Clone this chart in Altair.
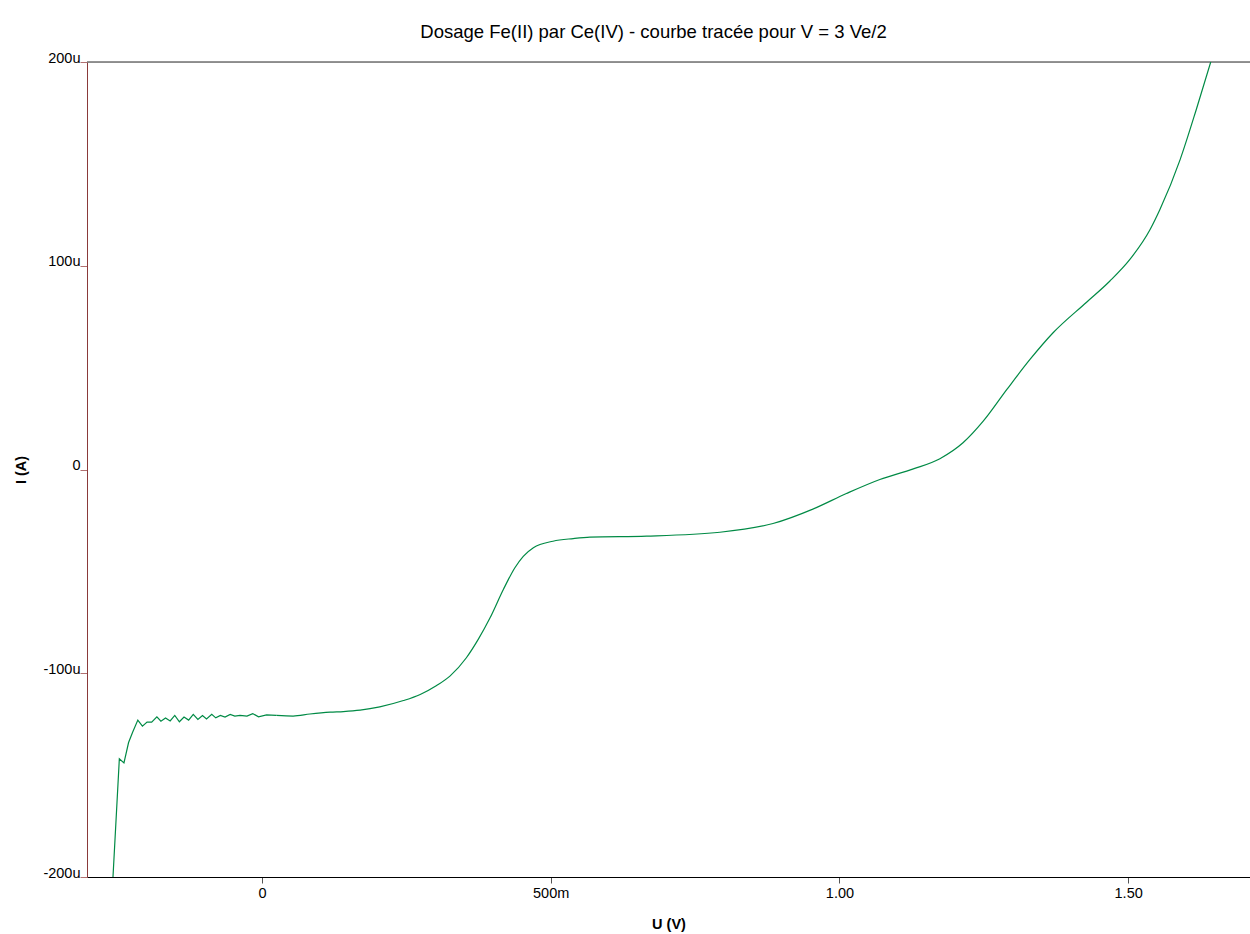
import altair as alt
import pandas as pd

# Potential U (V) and current I (µA)
U = [-0.258, -0.247, -0.239, -0.231, -0.224, -0.215, -0.207, -0.199, -0.191, -0.182,
     -0.175, -0.167, -0.159, -0.151, -0.143, -0.135, -0.127, -0.119, -0.111, -0.103,
     -0.096, -0.087, -0.080, -0.072, -0.064, -0.055, -0.047, -0.038, -0.026, -0.016,
     -0.006, 0.008, 0.025, 0.054, 0.083, 0.118, 0.141, 0.170, 0.204, 0.245,
     0.274, 0.3025, 0.3255, 0.354, 0.3745, 0.395, 0.418, 0.438, 0.4525, 0.470,
     0.504, 0.539, 0.568, 0.666, 0.793, 0.885, 0.955, 1.012, 1.070, 1.128,
     1.174, 1.214, 1.249, 1.290, 1.330, 1.370, 1.428, 1.468, 1.503, 1.538,
     1.555, 1.590, 1.618, 1.643]
I = [-200, -142, -144, -134, -129, -123, -126, -124, -124, -121.4,
     -123.5, -122, -123.4, -120.7, -123.8, -121.5, -123, -120.2, -122.7, -120.7,
     -122.4, -120.2, -121.9, -120.7, -121.5, -120.2, -121, -120.7, -121, -119.8,
     -121.4, -120.4, -120.7, -121, -120, -119.1, -118.8, -118.1, -116.5, -113.4,
     -110.4, -106, -101.4, -92.4, -83.4, -72.8, -58.9, -48.2, -42.6, -38.4,
     -35.2, -33.9, -33.2, -32.7, -30.8, -26.5, -19.3, -11.8, -4.9, 0.3,
     5.3, 13.1, 23.7, 39.3, 54, 67.1, 82.1, 92.4, 103.1, 117.8,
     127.6, 152.1, 176.7, 200]

x_ticks = [0, 0.5, 1.0, 1.5]
y_ticks = [-200, -100, 0, 100, 200]
x_domain = [-0.303, 1.711]
y_domain = [-200, 200]
noisy_until = 0.025  # end of the noisy (zig-zag) part of the scan

df = pd.DataFrame({"U": U, "I": I})

FONT = "Liberation Sans"

x_enc = alt.X(
    "U:Q",
    scale=alt.Scale(domain=x_domain, nice=False, zero=False),
    axis=alt.Axis(
        values=x_ticks,
        labelExpr="datum.value == 0 ? '0' : (datum.value == 0.5 ? '500m' : format(datum.value, '.2f'))",
        title="U (V)",
        titleFont=FONT, titleFontSize=14.5, titleFontWeight="bold", titleColor="#000",
        titleBaseline="alphabetic", titleY=51,
        labelFont=FONT, labelFontSize=14.5, labelColor="#000", labelPadding=3,
        tickSize=6, tickColor="#555", domainColor="#000", domainWidth=1.2,
        grid=False, labelFlush=False, labelOverlap=False,
    ),
)
y_enc = alt.Y(
    "I:Q",
    scale=alt.Scale(domain=y_domain, nice=False, zero=False),
    axis=alt.Axis(
        values=y_ticks,
        labelExpr="datum.value == 0 ? '0' : datum.value + 'u'",
        title="I (A)",
        titleFont=FONT, titleFontSize=14.5, titleFontWeight="bold", titleColor="#000",
        titleAngle=-90, titleBaseline="middle", titleAlign="center",
        titleX=-66, titleY=407.5,
        labelFont=FONT, labelFontSize=14.5, labelColor="#000", labelPadding=0,
        labelBaseline="alphabetic",
        tickSize=7, tickColor="#b07070", domainColor="#8a3a3a", domainWidth=1,
        grid=False, labelFlush=False, labelOverlap=False,
    ),
)

base = alt.Chart(df)
noisy = base.mark_line(color="#008a45", strokeWidth=1.2, clip=True).encode(
    x=x_enc, y=y_enc
).transform_filter(alt.datum.U <= noisy_until)
smooth = base.mark_line(
    color="#008a45", strokeWidth=1.2, clip=True, interpolate="monotone"
).encode(x=x_enc, y=y_enc).transform_filter(alt.datum.U >= noisy_until)

top = alt.Chart(pd.DataFrame({"I": [200]})).mark_rule(color="#707070", strokeWidth=1.5).encode(
    y=alt.Y("I:Q", scale=alt.Scale(domain=y_domain, nice=False, zero=False))
)

chart = alt.layer(top, noisy, smooth).properties(
    width=1163,
    height=815,
    title=alt.TitleParams(
        "Dosage Fe(II) par Ce(IV) - courbe tracée pour V = 3 Ve/2",
        font=FONT,
        fontSize=18.5,
        fontWeight="normal",
        color="#000",
        anchor="middle",
        baseline="alphabetic",
        offset=27,
        dx=-15,
        dy=33,
        frame="group",
    ),
    autosize=alt.AutoSizeParams(type="none"),
    padding={"left": 87, "top": 62, "right": 0, "bottom": 57},
).configure_view(stroke=None).configure(background="white")

chart.save("out.html", embed_options={"renderer": "svg", "actions": False})
